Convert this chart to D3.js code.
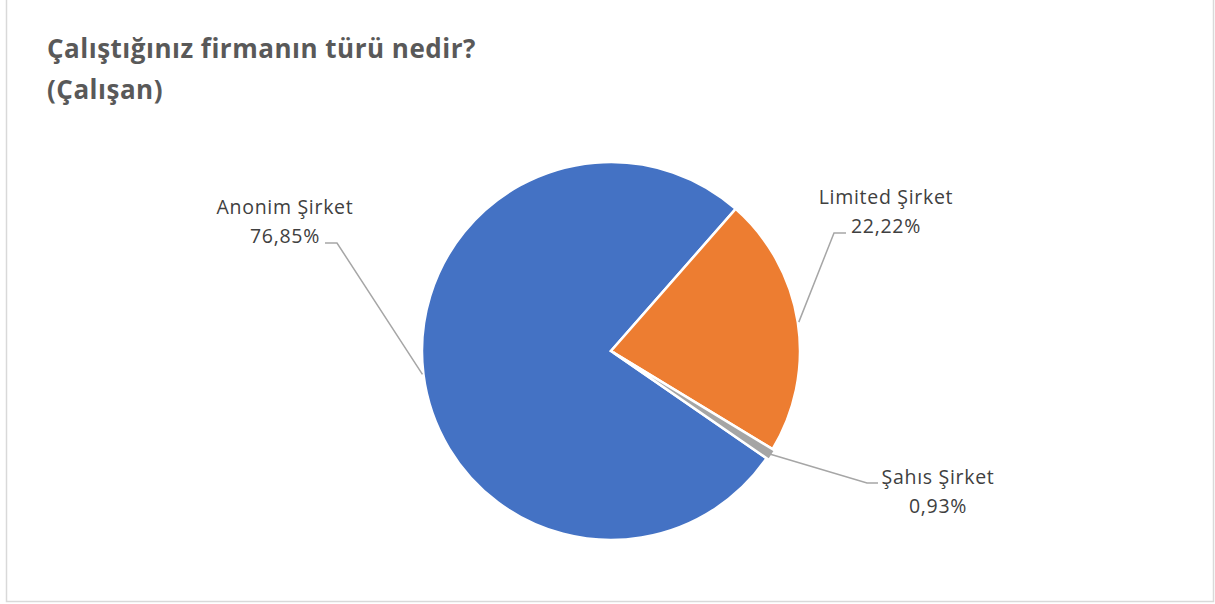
<!DOCTYPE html>
<html lang="tr">
<head>
  <meta charset="UTF-8">
  <title>Çalıştığınız firmanın türü nedir?</title>
  <script src="https://d3js.org/d3.v7.min.js"></script>
  <style>
    body { margin: 0; background: #fff; }
    svg { display: block; font-family: "Open Sans", sans-serif; }
    .title { font-weight: bold; font-size: 26px; letter-spacing: 0.5px; fill: #595959; }
    .label { font-size: 19.5px; letter-spacing: 0.7px; fill: #404040; }
    .leader { fill: none; stroke: #a6a6a6; stroke-width: 1.5px; }
  </style>
</head>
<body>
<script>
const categories = ['Anonim Şirket', 'Limited Şirket', 'Şahıs Şirket'];
const values = [76.85, 22.22, 0.93];
const percentLabels = ['76,85%', '22,22%', '0,93%'];
const colors = ['#4472C4', '#ED7D31', '#A5A5A5'];
const titleLines = ['Çalıştığınız firmanın türü nedir?', '(Çalışan)'];

const width = 1215, height = 604;
const cx = 611, cy = 351, radius = 189;
const firstSliceAngle = 124.6 * Math.PI / 180;

// where each label sits (center x, y of the percent line) and where the leader elbows
const labelLayout = [
  { x: 285, y: 237, elbowX: 337, endX: 325 },
  { x: 886, y: 227, elbowX: 834, endX: 846 },
  { x: 938, y: 507, elbowX: 867, endX: 878, lineY: 483 }
];

const svg = d3.select('body').append('svg')
  .attr('width', width)
  .attr('height', height);

svg.append('rect')
  .attr('x', 6.5).attr('y', -2)
  .attr('width', 1207).attr('height', 603.5)
  .attr('fill', '#fff')
  .attr('stroke', '#d9d9d9')
  .attr('stroke-width', 1.5);

svg.append('text')
  .attr('class', 'title')
  .selectAll('tspan')
  .data(titleLines)
  .enter().append('tspan')
  .attr('x', 47)
  .attr('y', (d, i) => 58 + i * 41)
  .text(d => d);

const pie = d3.pie()
  .sort(null)
  .value(d => d)
  .startAngle(firstSliceAngle)
  .endAngle(firstSliceAngle + 2 * Math.PI);

const arcs = pie(values);
const arc = d3.arc().innerRadius(0).outerRadius(radius);

const g = svg.append('g').attr('transform', `translate(${cx},${cy})`);

g.selectAll('path.slice')
  .data(arcs)
  .enter().append('path')
  .attr('class', 'slice')
  .attr('d', arc)
  .attr('transform', (d, i) => {
    if (i !== 2) return null;
    const mid = (d.startAngle + d.endAngle) / 2;
    return `translate(${3 * Math.sin(mid)},${-3 * Math.cos(mid)})`;
  })
  .attr('fill', (d, i) => colors[i])
  .attr('stroke', '#fff')
  .attr('stroke-width', 2.5)
  .attr('stroke-linejoin', 'miter');

// leader lines
svg.selectAll('path.leader')
  .data(arcs)
  .enter().append('path')
  .attr('class', 'leader')
  .attr('d', (d, i) => {
    const mid = (d.startAngle + d.endAngle) / 2;
    const sx = cx + (radius + 1) * Math.sin(mid);
    const sy = cy - (radius + 1) * Math.cos(mid);
    const L = labelLayout[i];
    const ly = L.lineY !== undefined ? L.lineY : L.y + 6;
    return `M${sx},${sy}L${L.elbowX},${ly}L${L.endX},${ly}`;
  });

const labels = svg.selectAll('text.label')
  .data(arcs)
  .enter().append('text')
  .attr('class', 'label')
  .attr('text-anchor', 'middle');

labels.append('tspan')
  .attr('x', (d, i) => labelLayout[i].x)
  .attr('y', (d, i) => labelLayout[i].y - 29 + 6)
  .text((d, i) => categories[i]);

labels.append('tspan')
  .attr('x', (d, i) => labelLayout[i].x)
  .attr('y', (d, i) => labelLayout[i].y + 6)
  .text((d, i) => percentLabels[i]);
</script>
</body>
</html>
